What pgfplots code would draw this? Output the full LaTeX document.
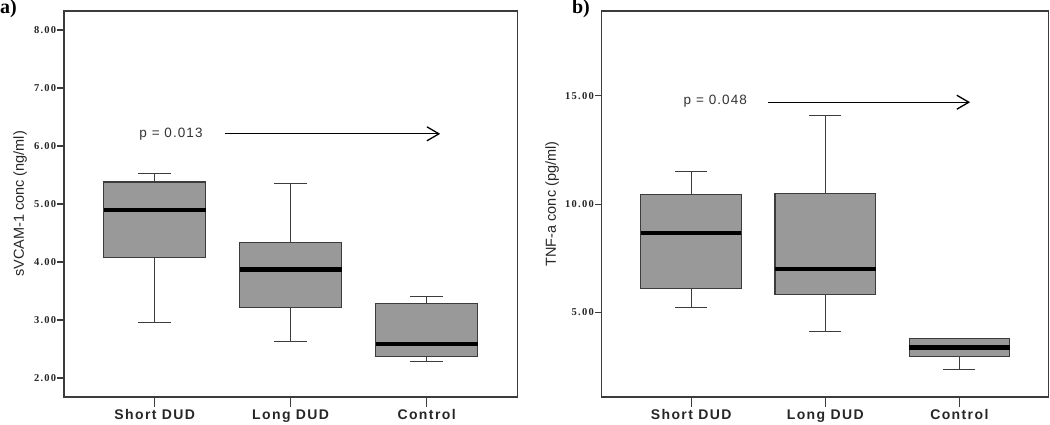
\documentclass[border=0pt]{standalone}
\usepackage{pgfplots}
\pgfplotsset{compat=1.18}
\usepgfplotslibrary{statistics}
\usetikzlibrary{arrows.meta}
\usepackage{fontspec}
\setmainfont{Liberation Sans}
\newfontfamily\tickfont[LetterSpace=12]{Liberation Serif}
\newfontfamily\catfont[LetterSpace=10]{Liberation Sans}
\newfontfamily\pfont[LetterSpace=8]{Liberation Sans}
\newfontfamily\panelfont{Liberation Serif}
\definecolor{boxgray}{RGB}{153,153,153}
\definecolor{edgegray}{RGB}{60,60,60}
\pgfplotsset{
  mybox/.style={
    scale only axis, height=386pt,
    axis line style={edgegray, line width=1.3pt},
    tick align=outside, xtick pos=bottom, ytick pos=left,
    xtick={1,2,3}, xticklabels={Short DUD,Long DUD,Control},
    xmin=0.333, xmax=3.667,
    every tick/.style={edgegray, line width=1.1pt},
    xtick style={/pgfplots/major tick length=10pt},
    ytick style={/pgfplots/major tick length=7pt},
    xticklabel style={font=\catfont\bfseries\fontsize{14}{16}\selectfont, text=black!85, yshift=-5pt},
    yticklabel style={font=\tickfont\bfseries\fontsize{10.5}{12}\selectfont, text=black!85},
    ylabel style={font=\fontsize{14.5}{16}\selectfont, anchor=center, text=black!85},
    boxplot/draw direction=y,
    boxplot/box extend=0.75,
    boxplot/whisker extend=0.24,
    boxplot/every median/.style={line width=4.5pt, black},
    boxplot/every whisker/.style={edgegray, line width=1.1pt},
    boxplot/every box/.style={draw=edgegray, fill=boxgray, line width=1.1pt},
  },
  bx/.style={draw=edgegray, fill=boxgray, line width=1.1pt, solid, mark=none},
}
\begin{document}
\begin{tikzpicture}
\useasboundingbox (0,0) rectangle (1050pt,425pt);
% ---------- panel a ----------
\begin{axis}[mybox, at={(64pt,28pt)}, anchor=south west, width=453.3pt,
  ymin=1.672, ymax=8.328,
  ytick={2,3,4,5,6,7,8}, yticklabels={2.00,3.00,4.00,5.00,6.00,7.00,8.00},
  ylabel={sVCAM-1 conc (ng/ml)},
  ylabel style={at={(axis description cs:-0.097,0.5)}}]
\addplot[bx, boxplot prepared={draw position=1, median=4.90, upper quartile=5.38, lower quartile=4.08, upper whisker=5.53, lower whisker=2.95}] coordinates {};
\addplot[bx, boxplot prepared={draw position=2, median=3.87, upper quartile=4.33, lower quartile=3.22, upper whisker=5.35, lower whisker=2.63}] coordinates {};
\addplot[bx, boxplot prepared={draw position=3, median=2.59, upper quartile=3.29, lower quartile=2.37, upper whisker=3.40, lower whisker=2.28}] coordinates {};
\node[font=\pfont\fontsize{13.5}{16}\selectfont, text=black!80] at (axis cs:1.12,6.21) {p = 0.013};
\draw[black, line width=1.3pt, -{Straight Barb[length=12pt, width=14pt, line width=1.3pt]}] (axis cs:1.52,6.21) -- (axis cs:3.10,6.21);
\end{axis}
% ---------- panel b ----------
\begin{axis}[mybox, at={(601.7pt,28pt)}, anchor=south west, width=447.1pt,
  ymin=1.10, ymax=18.91,
  ytick={5,10,15}, yticklabels={5.00,10.00,15.00},
  ylabel={TNF-a conc (pg/ml)},
  ylabel style={at={(axis description cs:-0.111,0.5)}}]
\addplot[bx, boxplot prepared={draw position=1, median=8.67, upper quartile=10.45, lower quartile=6.09, upper whisker=11.52, lower whisker=5.21}] coordinates {};
\addplot[bx, boxplot prepared={draw position=2, median=7.01, upper quartile=10.48, lower quartile=5.83, upper whisker=14.10, lower whisker=4.12}] coordinates {};
\addplot[bx, boxplot prepared={draw position=3, median=3.38, upper quartile=3.81, lower quartile=2.95, upper whisker=3.81, lower whisker=2.37}] coordinates {};
\node[font=\pfont\fontsize{13.5}{16}\selectfont, text=black!80] at (axis cs:1.18,14.76) {p = 0.048};
\draw[black, line width=1.3pt, -{Straight Barb[length=12pt, width=14pt, line width=1.3pt]}] (axis cs:1.57,14.70) -- (axis cs:3.08,14.70);
\end{axis}
\node[font=\panelfont\bfseries\fontsize{20}{22}\selectfont, anchor=west, inner sep=0pt] at (0pt,416pt) {a)};
\node[font=\panelfont\bfseries\fontsize{20}{22}\selectfont, inner sep=0pt] at (581pt,416pt) {b)};
\end{tikzpicture}
\end{document}
